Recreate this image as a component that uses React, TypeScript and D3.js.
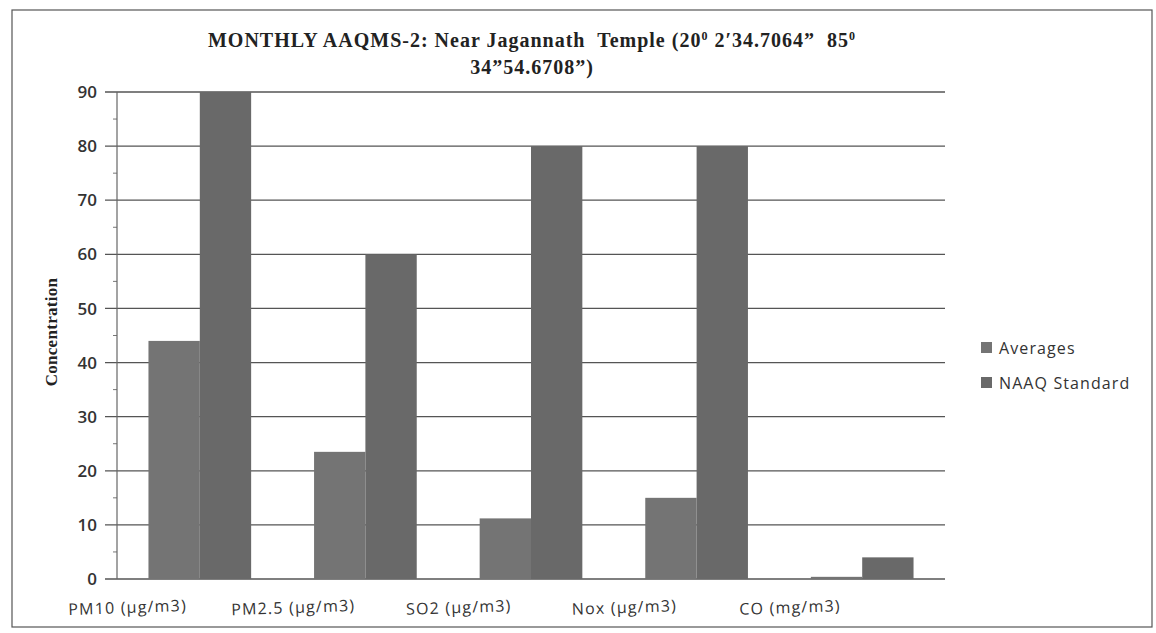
import React from 'react';
import * as d3 from 'd3';

const width = 1156;
const height = 633;
const margin = { top: 92, right: 211, bottom: 54, left: 117 };

const categories = ['PM10 (µg/m3)', 'PM2.5 (µg/m3)', 'SO2 (µg/m3)', 'Nox (µg/m3)', 'CO (mg/m3)'];
const seriesNames = ['Averages', 'NAAQ Standard'];
const averages = [44, 23.5, 11.2, 15, 0.4];
const naaqStandard = [90, 60, 80, 80, 4];
const yTicks = [0, 10, 20, 30, 40, 50, 60, 70, 80, 90];
const seriesColors = ['#747474', '#696969'];

const App = () => {
    const innerWidth = width - margin.left - margin.right;
    const innerHeight = height - margin.top - margin.bottom;

    const x = d3.scaleBand<string>().domain(categories).range([0, innerWidth]).paddingInner(0.38).paddingOuter(0.19);
    const xSub = d3.scaleBand<string>().domain(seriesNames).range([0, x.bandwidth()]);
    const y = d3.scaleLinear().domain([0, 90]).range([innerHeight, 0]);
    const minorTicks = d3.range(5, 90, 10);
    const values = [averages, naaqStandard];

    const titleStyle = { fontFamily: 'Liberation Serif', fontWeight: 'bold', fontSize: 20, letterSpacing: 1, fill: '#222', whiteSpace: 'pre' } as React.CSSProperties;

    return (
        <svg width={width} height={height} style={{ position: 'absolute', left: 0, top: 0, background: '#fff' }}>
            <rect x={12} y={10} width={1140} height={617} fill="none" stroke="#555" strokeWidth={1.2} />
            <text x={532} y={47} textAnchor="middle" style={titleStyle}>
                MONTHLY AAQMS-2: Near Jagannath  Temple (20<tspan dy={-7} fontSize={12}>0</tspan><tspan dy={7}> 2</tspan>ʹ34.7064”  85<tspan dy={-7} fontSize={12}>0</tspan>
            </text>
            <text x={532} y={74} textAnchor="middle" style={titleStyle}>
                34”54.6708”)
            </text>
            <text transform={`translate(57,332) rotate(-90)`} textAnchor="middle"
                fontFamily="Liberation Serif" fontWeight="bold" fontSize={17} letterSpacing={0.3} fill="#222">
                Concentration
            </text>
            <g transform={`translate(${margin.left},${margin.top})`}>
                {yTicks.map(t => (
                    <g key={t} transform={`translate(0,${y(t)})`}>
                        <line x1={-12} x2={innerWidth} stroke="#555" strokeWidth={1.3} />
                        <text x={-20} dy="0.36em" textAnchor="end" fontFamily="Open Sans" fontWeight={600} fontSize={17} fill="#333">
                            {t}
                        </text>
                    </g>
                ))}
                {minorTicks.map(t => (
                    <line key={t} x1={-4} x2={0} y1={y(t)} y2={y(t)} stroke="#777" />
                ))}
                <line x1={0} x2={0} y1={0} y2={innerHeight} stroke="#666" strokeWidth={1.2} />
                {categories.map((c, i) => (
                    <g key={c} transform={`translate(${x(c)},0)`}>
                        {seriesNames.map((s, j) => (
                            <rect
                                key={s}
                                x={xSub(s)}
                                y={y(values[j][i])}
                                width={xSub.bandwidth()}
                                height={innerHeight - y(values[j][i])}
                                fill={seriesColors[j]}
                            />
                        ))}
                        <text transform={`translate(${x.bandwidth() / 2 - 72},${innerHeight + 34}) rotate(-2)`} textAnchor="middle"
                            fontFamily="Open Sans" fontSize={16} letterSpacing={1.2} fill="#333">
                            {c}
                        </text>
                    </g>
                ))}
            </g>
            {seriesNames.map((s, j) => (
                <g key={s} transform={`translate(981,${348 + j * 35})`}>
                    <rect x={0} y={-6} width={11} height={11} fill={seriesColors[j]} />
                    <text x={18} dy="0.36em" fontFamily="Open Sans" fontSize={16} letterSpacing={1.1} fill="#333">{s}</text>
                </g>
            ))}
        </svg>
    );
};

export default App;
